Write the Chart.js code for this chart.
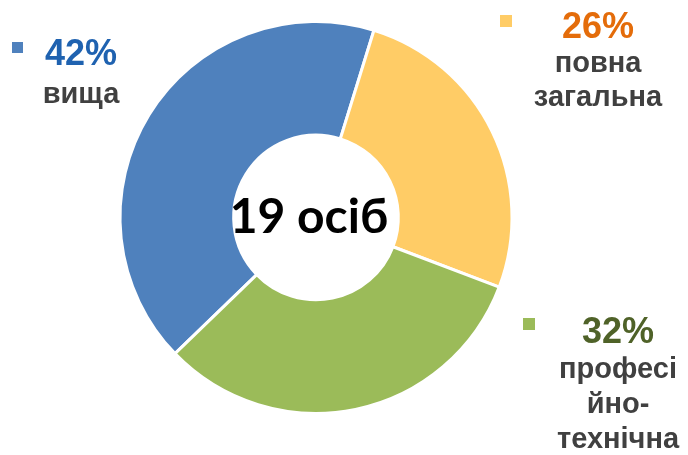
<!DOCTYPE html>
<html>
<head>
<meta charset="utf-8">
<script src="https://cdn.jsdelivr.net/npm/chart.js@4.4.1/dist/chart.umd.min.js"></script>
<style>
  html, body { margin: 0; padding: 0; background: #fff; }
  #wrap { width: 688px; height: 455px; }
</style>
</head>
<body>
<div id="wrap"><canvas id="myChart" width="688" height="455"></canvas></div>
<script>
// data
var categories = ["вища", "повна загальна", "професійно-технічна"];
var shares = [42, 26, 32];
var totalPeople = 19;
var colors = ["#4F81BD", "#FFCC66", "#9BBB59"];
var pctColors = ["#1F62B0", "#E46C0A", "#4F6228"];
// label text lines as wrapped in the original
var labelLines = [["вища"], ["повна", "загальна"], ["професі", "йно-", "технічна"]];

// label blocks: marker square, percent line, then category lines
var labelSpots = [
    { mx: 12, my: 42, ms: 11, cx: 81, y: 65, step: 38 },
    { mx: 500, my: 15, ms: 12, cx: 598, y: 38, step: 34 },
    { mx: 523, my: 318, ms: 12, cx: 618, y: 343, step: 35 }
];

var labelPlugin = {
    id: 'sideLabels',
    afterDraw: function (chart) {
        var ctx = chart.ctx;
        ctx.save();
        ctx.textAlign = 'center';
        ctx.textBaseline = 'alphabetic';
        for (var i = 0; i < categories.length; i++) {
            var s = labelSpots[i];
            ctx.fillStyle = colors[i];
            ctx.fillRect(s.mx, s.my, s.ms, s.ms);
            ctx.font = 'bold 36px "Liberation Sans", Arial, sans-serif';
            ctx.fillStyle = pctColors[i];
            ctx.fillText(shares[i] + '%', s.cx, s.y);
            ctx.font = 'bold 29px "Liberation Sans", Arial, sans-serif';
            ctx.fillStyle = '#404040';
            for (var j = 0; j < labelLines[i].length; j++) {
                ctx.fillText(labelLines[i][j], s.cx, s.y + s.step * (j + 1));
            }
        }
        // centre text, sits a little left of the hole centre like the original
        var meta = chart.getDatasetMeta(0).data[0];
        ctx.font = 'bold 48px Lato, "Open Sans", sans-serif';
        ctx.fillStyle = '#000';
        ctx.fillText(totalPeople + ' осіб', meta.x - 7, meta.y + 15);
        ctx.restore();
    }
};

window.onload = function ()
{
    var canvasP = document.getElementById("myChart");
    var ctxP = canvasP.getContext('2d');
    new Chart(ctxP, {
        type: 'doughnut',
        data: {
            labels: categories,
            datasets: [{
                data: shares,
                backgroundColor: colors,
                borderColor: '#ffffff',
                borderWidth: 3
            }]
        },
        options: {
            responsive: false,
            animation: false,
            cutout: '42%',
            rotation: -134,
            layout: { padding: { top: 20, bottom: 40, left: 118, right: 174 } },
            plugins: {
                legend: { display: false },
                tooltip: { enabled: false }
            }
        },
        plugins: [labelPlugin]
    });
}
</script>
</body>
</html>
